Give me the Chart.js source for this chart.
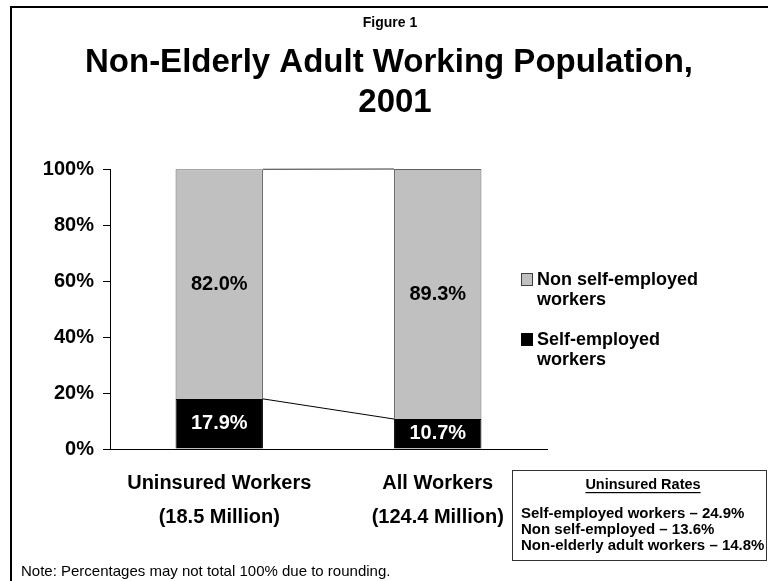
<!DOCTYPE html>
<html>
<head>
<meta charset="utf-8">
<script src="https://cdn.jsdelivr.net/npm/chart.js@4/dist/chart.umd.min.js"></script>
<style>
  html, body { margin: 0; padding: 0; background: #fff; }
  #wrap { width: 768px; height: 581px; position: relative; }
</style>
</head>
<body>
<div id="wrap"><canvas id="c" width="768" height="581"></canvas></div>
<script>
// Worker groups (two-line axis labels)
const categories = [
  ['Uninsured Workers', '(18.5 Million)'],
  ['All Workers', '(124.4 Million)']
];
// Share of each group, percent
const selfEmployed = [17.9, 10.7];
const nonSelfEmployed = [82.0, 89.3];
const seriesNames = [['Self-employed', 'workers'], ['Non self-employed', 'workers']];
const yTicks = [0, 20, 40, 60, 80, 100];
// Uninsured rates shown in the side box
const rateTitle = 'Uninsured Rates';
const rateLines = [
  'Self-employed workers \u2013 24.9%',
  'Non self-employed \u2013 13.6%',
  'Non-elderly adult workers \u2013 14.8%'
];

const FONT = '"Liberation Sans", Arial, Helvetica, sans-serif';
const GREY = '#C0C0C0';

// Frame, titles, legend, rates box and note
const decor = {
  id: 'decor',
  beforeDraw(chart) {
    const ctx = chart.ctx;
    ctx.save();
    ctx.fillStyle = '#fff';
    ctx.fillRect(0, 0, chart.width, chart.height);
    ctx.strokeStyle = '#000';
    ctx.lineWidth = 2;
    ctx.beginPath();
    ctx.moveTo(11, 581);
    ctx.lineTo(11, 7);
    ctx.lineTo(768, 7);
    ctx.stroke();
    ctx.restore();
  },
  afterDraw(chart) {
    const ctx = chart.ctx;
    ctx.save();
    ctx.fillStyle = '#000';
    ctx.textAlign = 'center';
    ctx.textBaseline = 'middle';
    ctx.font = 'bold 14px ' + FONT;
    ctx.fillText('Figure 1', 390, 23);
    ctx.font = 'bold 33px ' + FONT;
    ctx.fillText('Non-Elderly Adult Working Population,', 389, 63);
    ctx.fillText('2001', 395, 103);

    // legend
    const legendItems = [
      { names: seriesNames[1], fill: GREY, stroke: '#404040', y: 280 },
      { names: seriesNames[0], fill: '#000', stroke: '#000', y: 340 }
    ];
    ctx.textAlign = 'left';
    ctx.font = 'bold 18px ' + FONT;
    legendItems.forEach(it => {
      ctx.fillStyle = it.fill;
      ctx.fillRect(521.5, it.y - 6.5, 11, 12);
      ctx.strokeStyle = it.stroke;
      ctx.lineWidth = 1;
      ctx.strokeRect(521.5, it.y - 6.5, 11, 12);
      ctx.fillStyle = '#000';
      it.names.forEach((t, i) => ctx.fillText(t, 537, it.y + i * 20));
    });

    // rates box
    ctx.strokeStyle = '#333';
    ctx.lineWidth = 1;
    ctx.strokeRect(512.5, 470.5, 254, 90);
    ctx.textAlign = 'center';
    ctx.font = 'bold 14.5px ' + FONT;
    ctx.fillText(rateTitle, 643, 485);
    const w = ctx.measureText(rateTitle).width;
    ctx.fillRect(643 - w / 2, 492, w, 1.2);
    ctx.textAlign = 'left';
    ctx.font = 'bold 15px ' + FONT;
    rateLines.forEach((t, i) => ctx.fillText(t, 521, 514 + i * 16));

    // note
    ctx.font = '15px ' + FONT;
    ctx.fillText('Note: Percentages may not total 100% due to rounding.', 21, 572);
    ctx.restore();
  }
};

// Series connector lines between stacked segments, and value labels
const barExtras = {
  id: 'barExtras',
  afterDatasetsDraw(chart) {
    const ctx = chart.ctx;
    ctx.save();
    chart.data.datasets.forEach((ds, di) => {
      const bars = chart.getDatasetMeta(di).data;
      ctx.strokeStyle = di === 0 ? '#000' : '#333';
      ctx.lineWidth = 1;
      for (let i = 0; i < bars.length - 1; i++) {
        const a = bars[i], b = bars[i + 1];
        ctx.beginPath();
        ctx.moveTo(a.x + a.width / 2, a.y);
        ctx.lineTo(b.x - b.width / 2, b.y);
        ctx.stroke();
      }
    });
    ctx.font = 'bold 20px ' + FONT;
    ctx.textAlign = 'center';
    ctx.textBaseline = 'middle';
    chart.data.datasets.forEach((ds, di) => {
      const bars = chart.getDatasetMeta(di).data;
      bars.forEach((bar, i) => {
        ctx.fillStyle = di === 0 ? '#fff' : '#000';
        ctx.fillText(ds.data[i].toFixed(1) + '%', bar.x, (bar.y + bar.base) / 2);
      });
    });
    ctx.restore();
  }
};

new Chart(document.getElementById('c'), {
  type: 'bar',
  data: {
    labels: categories,
    datasets: [
      { label: seriesNames[0].join(' '), data: selfEmployed, backgroundColor: '#000', borderColor: '#000', borderWidth: 1 },
      { label: seriesNames[1].join(' '), data: nonSelfEmployed, backgroundColor: GREY, borderColor: '#606060', borderWidth: 1 }
    ]
  },
  options: {
    responsive: false,
    animation: false,
    devicePixelRatio: 1,
    layout: { padding: { left: 10, right: 221, top: 169, bottom: 0 } },
    datasets: { bar: { barPercentage: 0.4, categoryPercentage: 1.0 } },
    plugins: { legend: { display: false }, tooltip: { enabled: false }, title: { display: false } },
    scales: {
      x: {
        stacked: true,
        grid: { display: true, drawOnChartArea: false, drawTicks: false },
        border: { display: true, color: '#000', width: 1 },
        ticks: {
          color: '#000',
          font: { family: FONT, size: 20, weight: 'bold', lineHeight: 1.7 },
          padding: 17,
          maxRotation: 0,
          autoSkip: false
        },
        afterFit(scale) { scale.height = 132; }
      },
      y: {
        stacked: true,
        min: 0,
        max: 100,
        afterBuildTicks(scale) { scale.ticks = yTicks.map(v => ({ value: v })); },
        grid: { display: true, drawOnChartArea: false, drawTicks: true, tickLength: 7, color: '#000' },
        border: { display: true, color: '#000', width: 1 },
        ticks: {
          color: '#000',
          font: { family: FONT, size: 20, weight: 'bold' },
          padding: 9,
          callback: v => v + '%'
        },
        afterFit(scale) { scale.width = 100; }
      }
    }
  },
  plugins: [decor, barExtras]
});
</script>
</body>
</html>
